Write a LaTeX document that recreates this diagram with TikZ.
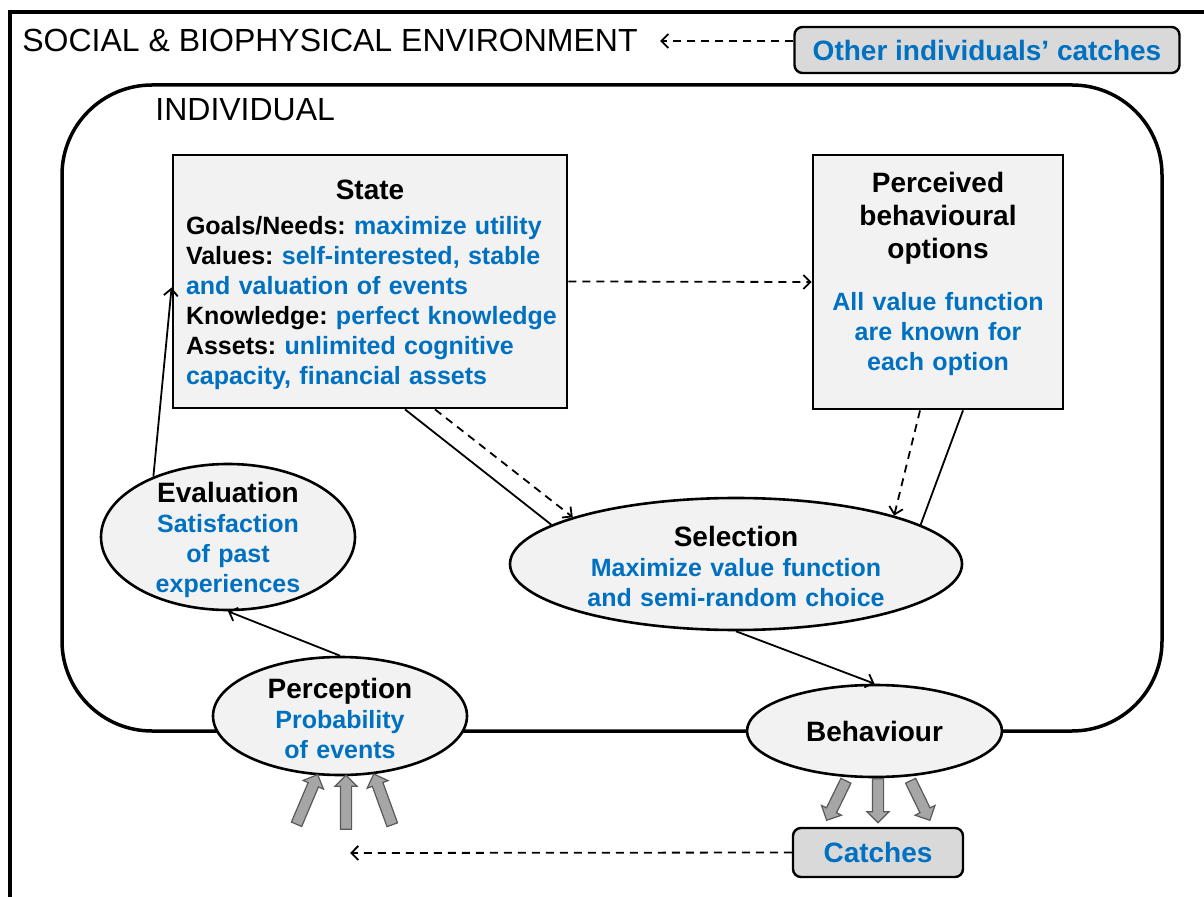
\documentclass[tikz,border=0pt]{standalone}
\usepackage{fontspec}
\setmainfont{Liberation Sans}
\usepackage{xcolor}
\usepackage{tikz}
\usetikzlibrary{
  arrows.meta,
  positioning,
  shapes.geometric,
  shapes.arrows,
}
\definecolor{valblue}{HTML}{0070C0}
\definecolor{boxfill}{HTML}{F2F2F2}
\definecolor{tagfill}{HTML}{D9D9D9}
\definecolor{blockgray}{HTML}{A6A6A6}
\definecolor{blockedge}{HTML}{595959}
\newcommand{\hd}[1]{{\fontsize{14}{15}\selectfont #1}}
\newcommand{\vl}[1]{\textcolor{valblue}{#1}}
\frenchspacing
\tikzset{
  >={Straight Barb[length=3.5pt,width=7pt]},
  frame/.style={line width=2pt},
  indiv/.style={line width=1.75pt, rounded corners=45pt},
  heading/.style={font=\fontsize{16}{18}\selectfont, inner sep=0pt, anchor=west},
  box/.style={draw, line width=1.4pt, fill=boxfill, inner sep=0pt},
  oval/.style={ellipse, draw, line width=1.3pt, fill=boxfill, inner sep=0pt},
  tag/.style={
    draw,
    line width=1.2pt,
    fill=tagfill,
    rounded corners=4pt,
    text=valblue,
    font=\fontsize{14}{16}\selectfont\bfseries,
  },
  txt/.style={align=center, inner sep=0pt},
  flow/.style={line width=0.9pt},
  dashflow/.style={flow, dash pattern=on 4pt off 3pt},
  block/.style={
    single arrow,
    draw=blockedge,
    fill=blockgray,
    line width=0.6pt,
    inner sep=2.5pt,
    single arrow head extend=2.75pt,
  },
}

\begin{document}
\begin{tikzpicture}[x=0.5pt, y=-0.5pt, font=\fontsize{12.5}{15}\selectfont\bfseries]
  \useasboundingbox (0,0) rectangle (1204,897);
  \fill[white] (0,0) rectangle (1204,897);

  % environment frame
  \draw[frame] (10,897) -- (10,12) -- (1204,12);
  \node[heading] (envtitle) at (22,40) {SOCIAL \& BIOPHYSICAL ENVIRONMENT};
  \node[tag, minimum width=192.5pt, minimum height=23pt] (others) at (987,50) {Other individuals’ catches};
  \coordinate (envin) at (660,41);
  \draw[dashflow, ->] (others.west |- envin) -- (envin);

  % individual
  \draw[indiv] (62,85) rectangle (1162,731);
  \node[heading] (indivtitle) at (155,110) {INDIVIDUAL};

  % state
  \node[box, minimum width=197pt, minimum height=126.5pt] (state) at (370,281.5) {};
  \node[txt, font=\fontsize{14}{15}\selectfont\bfseries] (statehead) at (370,190) {State};
  \node[txt, align=left, text width=192pt] (statebody) at (378,303) {Goals/Needs: \vl{maximize utility}\\
    Values: \vl{self-interested, stable}\\
    \vl{and valuation of events}\\
    Knowledge: \vl{perfect knowledge}\\
    Assets: \vl{unlimited cognitive}\\
    \vl{capacity, financial assets}};

  % perceived options
  \node[box, minimum width=125pt, minimum height=127pt] (options) at (938,282) {};
  \node[txt, text width=120pt, font=\fontsize{14}{16.5}\selectfont\bfseries] (optionshead) at (938,218) {Perceived\\behavioural\\options};
  \node[txt, text width=120pt, text=valblue] (optionsbody) at (938,334) {All value function\\are known for\\each option};

  % evaluation, selection, perception, behaviour
  \node[oval, minimum width=127pt, minimum height=73pt] (evaluation) at (228,537) {};
  \node[txt, text width=110pt] (evaltext) at (228,540) {\hd{Evaluation}\\\color{valblue}Satisfaction\\of past\\experiences};

  \node[oval, minimum width=226pt, minimum height=66pt] (selection) at (736,564) {};
  \node[txt, text width=160pt] (seltext) at (736,566) {\hd{Selection}\\\color{valblue}Maximize value function\\and semi-random choice};

  \node[oval, minimum width=127pt, minimum height=59pt] (perception) at (340,716) {};
  \node[txt, text width=110pt] (perctext) at (340,718) {\hd{Perception}\\\color{valblue}Probability\\of events};

  \node[oval, minimum width=127.5pt, minimum height=46pt, font=\fontsize{14}{15}\selectfont\bfseries] (behaviour) at (874.5,731) {Behaviour};

  % flows
  \draw[flow, ->] (evaluation.141) -- ([yshift=-3pt]state.west);
  \draw[flow, ->] (perception.north) -- (evaluation.south);
  \draw[dashflow, ->] (state.east) -- (options.west);
  \draw[flow] ([xshift=17.5pt]state.south) -- (selection.168);
  \draw[dashflow, ->] ([xshift=32.5pt]state.south) -- (selection.164);
  \draw[dashflow, ->] ([xshift=-9pt]options.south) -- (selection.17);
  \draw[flow] (selection.12) -- ([xshift=12.5pt]options.south);
  \draw[flow, ->] (selection.south) -- (behaviour.north);

  % block arrows in and out
  \foreach \x/\y/\a/\n in {306/802/67/1, 346/805/90/2, 384/802/110/3}
    \node[block, minimum height=27pt, rotate=\a] (sense\n) at (\x,\y) {};
  \foreach \x/\a/\n in {837.5/-116/1, 878/-90/2, 919/-64/3}
    \node[block, minimum height=22pt, rotate=\a] (act\n) at (\x,798) {};

  % catches
  \node[tag, minimum width=85pt, minimum height=24.5pt] (catches) at (878,852.5) {Catches};
  \coordinate (catchin) at (350,853);
  \draw[dashflow, ->] (catches.west) -- (catchin);
\end{tikzpicture}
\end{document}
